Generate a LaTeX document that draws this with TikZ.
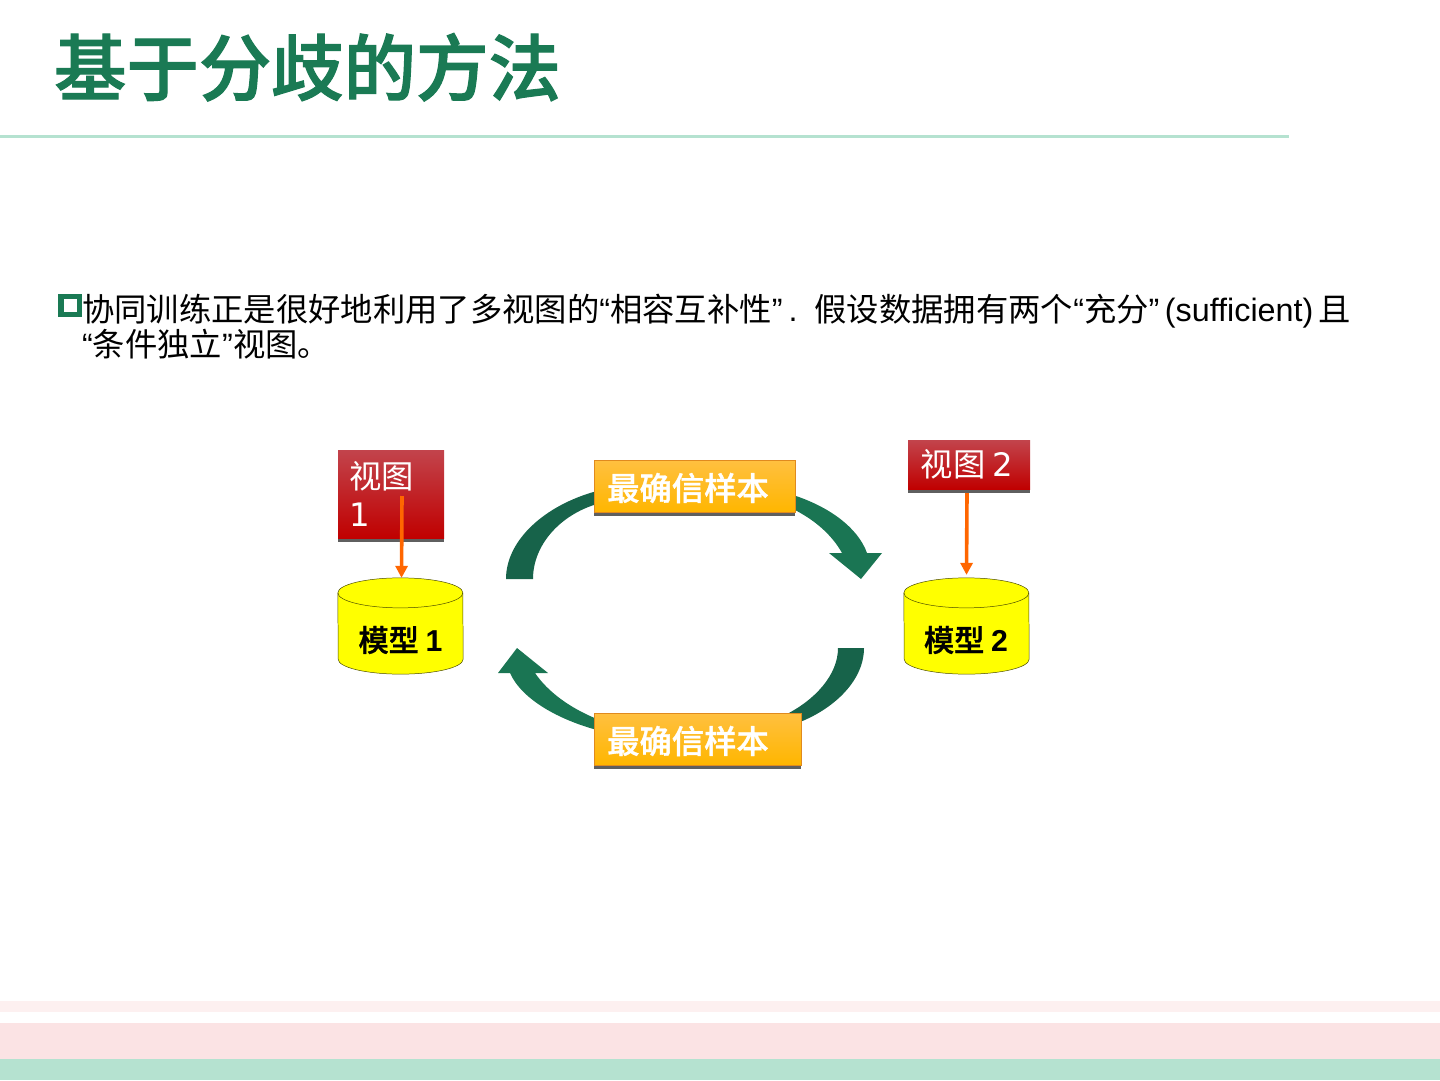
\documentclass[tikz,border=0pt]{standalone}
\usepackage{fontspec}
\setmainfont{Liberation Sans}
\newfontfamily\cjk{Noto Sans CJK SC}
\newfontfamily\cjkfat{Noto Sans CJK SC Medium}
\newfontfamily\dejavu{DejaVu Sans}
\usetikzlibrary{arrows.meta}
\definecolor{titlegreen}{HTML}{1A7A54}
\definecolor{palegreen}{HTML}{B5E2D0}
\definecolor{darkgreen}{HTML}{17634A}
\definecolor{headgreen}{HTML}{1A7553}
\definecolor{stripgray}{HTML}{5F5F5F}
\definecolor{viewtop}{HTML}{C2444C}
\definecolor{viewbot}{HTML}{C00000}
\definecolor{sampletop}{HTML}{FFC040}
\definecolor{samplebot}{HTML}{FFB600}
\definecolor{sampleline}{HTML}{E08A1E}
\definecolor{arroworange}{HTML}{FF6600}
\definecolor{modelyellow}{HTML}{FFFF00}
\definecolor{modelline}{HTML}{4A4A00}
\definecolor{bandpale}{HTML}{FDF0F0}
\definecolor{bandpink}{HTML}{FBE3E4}
\newcommand{\heavytext}[2]{\special{pdf:code 2 Tr #1 w}#2\special{pdf:code 0 Tr}}
\newcommand{\modeldrum}[1]{
	\path[modelbody] ([yshift=-0.75cm]#1.north west) arc[start angle=180,end angle=0,x radius=3.125cm,y radius=0.75cm] -- ([yshift=0.75cm]#1.south east) arc[start angle=0,end angle=-180,x radius=3.125cm,y radius=0.75cm] -- cycle;
	\draw[modelline,line width=0.7pt] ([yshift=-0.75cm]#1.north west) arc[start angle=180,end angle=360,x radius=3.125cm,y radius=0.75cm];
}
\tikzset{
	bodytext/.style={anchor=base west,inner sep=0pt,font=\fontsize{46}{46}\selectfont},
	viewbox/.style={inner sep=0pt,text=white,top color=viewtop,bottom color=viewbot,font=\fontsize{46}{55}\selectfont},
	samplebox/.style={inner sep=0pt,text=white,top color=sampletop,bottom color=samplebot,draw=sampleline,line width=0.6pt,font=\cjkfat\fontsize{46}{46}\selectfont},
	modelnode/.style={inner sep=0pt,minimum width=6.25cm,minimum height=4.8cm,font=\cjkfat\fontsize{43}{43}\selectfont},
	modelbody/.style={draw=modelline,fill=modelyellow,line width=0.7pt},
	viewarrow/.style={-{Triangle[length=0.6cm,width=0.6cm]},color=arroworange,line width=0.18cm},
}
\begin{document}
\begin{tikzpicture}[x=0.05cm,y=-0.05cm]
	\useasboundingbox (0,0) rectangle (1440,1080);
	% title and rule
	\node[anchor=base west,inner sep=0pt,text=titlegreen,font=\cjkfat\fontsize{103}{103}\selectfont] (title) at (54,95) {\heavytext{1.6}{基于分歧的方法}};
	\fill[palegreen] (0,135) rectangle (1289,138);
	% bullet and text
	\node[draw=titlegreen,line width=0.27cm,inner sep=0pt,minimum size=0.92cm] (bullet) at (70,305.5) {};
	\node[bodytext] (line1) at (82,321) {{\cjk 协同训练正是很好地利用了多视图的}“{\cjk 相容互补性}”\hspace{0.3cm}.\hspace{0.85cm}{\cjk 假设数据拥有两个}“{\cjk 充分}”\,(sufficient)\,{\cjk 且}};
	\node[bodytext] (line2) at (82,356) {“{\cjk 条件独立}”{\cjk 视图。}};
	% curved arrows
	\fill[darkgreen] (506,579) .. controls (506,540) and (545,505) .. (597,491) -- (597,504) .. controls (560,515) and (533,545) .. (533,579) -- cycle;
	\fill[headgreen] (793,495) .. controls (830,507) and (858,528) .. (867,553) -- (882,553) -- (861,579) -- (829,553) -- (842,553) .. controls (832,535) and (815,520) .. (793,509) -- cycle;
	\fill[darkgreen] (864,648) .. controls (864,680) and (835,708) .. (800,722) -- (785,715) .. controls (815,700) and (838,675) .. (838,648) -- cycle;
	\fill[headgreen] (517,648) -- (548,673) -- (535,673) .. controls (548,692) and (570,708) .. (597,719) -- (597,730) .. controls (560,720) and (522,700) .. (510,673) -- (498,673) -- cycle;
	% view boxes
	\fill[stripgray] (338,536) rectangle (444,542);
	\node[viewbox,minimum width=5.3cm,minimum height=4.4cm,text width=4.2cm,align=left] (view1) at (391,494) {{\cjk 视图}\\{\dejavu 1}};
	\fill[stripgray] (908,487) rectangle (1030,493);
	\node[viewbox,minimum width=6.1cm,minimum height=2.45cm] (view2) at (969,464.5) {\hspace*{-0.2cm}{\cjk 视图}\hspace{0.35cm}{\dejavu 2}};
	% models
	\node[modelnode] (model1) at (400.5,626) {};
	\node[modelnode] (model2) at (966.5,626) {};
	\modeldrum{model1}
	\modeldrum{model2}
	\node[modelnode,minimum width=0pt,minimum height=0pt] (label1) at (400.5,640) {\heavytext{0.5}{模型} {\bfseries\rmfamily 1}};
	\node[modelnode,minimum width=0pt,minimum height=0pt] (label2) at (966,640) {\heavytext{0.5}{模型} {\bfseries\rmfamily 2}};
	% view to model
	\coordinate (out1) at (402,496);
	\coordinate (out2) at (967,493);
	\draw[viewarrow] (out1) -- ([xshift=0.05cm]model1.north);
	\draw[viewarrow] (out2) -- ([yshift=0.15cm]model2.north);
	% sample boxes
	\fill[stripgray] (594,510) rectangle (795,516);
	\node[samplebox,minimum width=10.05cm,minimum height=2.6cm] (sample1) at (694.5,486) {\hspace*{-0.65cm}\raisebox{-0.1cm}[\height][\depth]{\heavytext{0.5}{最确信样本}}};
	\fill[stripgray] (594,763) rectangle (801,769);
	\node[samplebox,minimum width=10.35cm,minimum height=2.6cm] (sample2) at (697.5,739) {\hspace*{-0.95cm}\raisebox{-0.1cm}[\height][\depth]{\heavytext{0.5}{最确信样本}}};
	% bands at the foot
	\fill[bandpale] (0,1001) rectangle (1440,1012);
	\fill[bandpink] (0,1023) rectangle (1440,1059);
	\fill[palegreen] (0,1059) rectangle (1440,1080);
\end{tikzpicture}
\end{document}
